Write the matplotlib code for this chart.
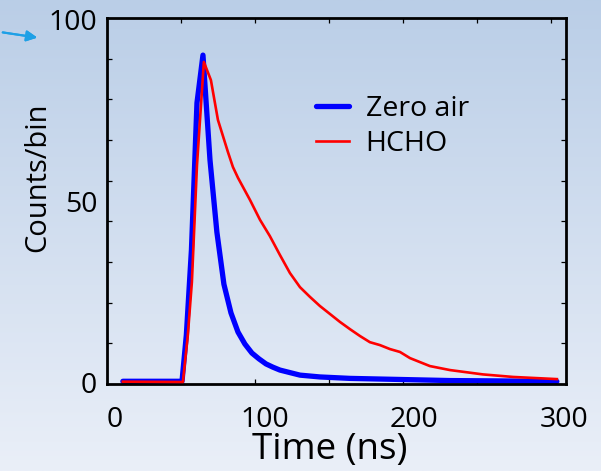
import numpy as np
import matplotlib.pyplot as plt
from matplotlib.colors import LinearSegmentedColormap

plt.rcParams['font.family'] = ['Open Sans', 'DejaVu Sans']

# Fluorescence decay histograms (time in ns, counts per bin)
time_zero_air = [5.5, 45.0, 47.9, 51.3, 55.0, 59.0, 63.7, 68.3, 73.0, 77.7, 82.4,
                 87.0, 91.7, 96.4, 101.1, 105.7, 110.4, 117.1, 123.8, 137.1,
                 157.2, 190.6, 224.0, 257.4, 295.4]
counts_zero_air = [0.2, 0.2, 13.0, 36.5, 77.1, 90.3, 61.3, 41.4, 27.0, 19.1, 13.8,
                   10.5, 8.0, 6.4, 5.0, 4.1, 3.3, 2.6, 1.9, 1.4,
                   1.0, 0.7, 0.4, 0.3, 0.15]

time_hcho = [5.5, 45.6, 48.9, 51.6, 55.0, 59.6, 64.3, 69.0, 75.7, 79.0, 82.4,
             90.4, 97.1, 103.7, 110.4, 117.1, 123.8, 130.5, 137.1, 143.8, 150.5,
             157.2, 163.9, 170.5, 177.2, 183.9, 190.6, 197.3, 210.6, 224.0,
             246.0, 266.1, 295.4]
counts_hcho = [0.1, 0.0, 13.0, 27.6, 59.9, 88.4, 83.4, 72.4, 63.5, 59.4, 56.4,
               50.3, 44.8, 40.3, 35.1, 30.1, 26.2, 23.5, 21.0, 18.8, 16.6,
               14.6, 12.7, 11.0, 10.2, 9.1, 8.3, 6.6, 4.4, 3.3,
               2.1, 1.4, 0.8]

x_tick_labels = ['0', '100', '200', '300']
x_tick_values = [0, 100, 200, 300]
y_tick_labels = ['0', '50', '100']
y_tick_values = [0, 50, 100]

W, H = 601, 471
fig = plt.figure(figsize=(W / 100, H / 100), dpi=100)

# slide-style vertical gradient background
bg = fig.add_axes([0, 0, 1, 1], zorder=-10)
grad = np.linspace(0, 1, 256).reshape(-1, 1)
cmap = LinearSegmentedColormap.from_list('bg', ['#bacee7', '#eaeff8'])
bg.imshow(grad, aspect='auto', cmap=cmap, extent=[0, 1, 0, 1], origin='upper')
bg.set_axis_off()

left, right, top, bottom = 107, 566, 18, 384
ax = fig.add_axes([left / W, 1 - bottom / H, (right - left) / W, (bottom - top) / H])
ax.set_facecolor('none')

ax.plot(time_zero_air, counts_zero_air, color='#0000ff', lw=3.8,
        solid_joinstyle='round', solid_capstyle='round', label='Zero air', zorder=2)
ax.plot(time_hcho, counts_hcho, color='#ff0000', lw=1.9,
        solid_joinstyle='round', label='HCHO', zorder=3)

xmin, xmax = -5.1, 301.5
ymin, ymax = -0.55, 100.55
ax.set_xlim(xmin, xmax)
ax.set_ylim(ymin, ymax)

# labelled ticks (no marks) and unlabelled inward tick marks
ax.set_xticks(x_tick_values)
ax.set_xticklabels(x_tick_labels)
ax.set_yticks(y_tick_values)
ax.set_yticklabels(y_tick_labels)
ax.tick_params(axis='both', which='major', length=0, labelsize=20.5)
ax.tick_params(axis='x', which='major', pad=16)
ax.tick_params(axis='y', which='major', pad=7)

x_step = (xmax - xmin) * 74 / (right - left)
ax.set_xticks([xmin + x_step * k for k in range(1, 7)], minor=True)
ax.set_yticks(np.linspace(ymin, ymax, 10)[1:-1], minor=True)
ax.tick_params(which='minor', direction='in', length=3.5, width=0.9,
               top=True, right=True, bottom=True, left=True)

for s in ax.spines.values():
    s.set_linewidth(2.0)

ax.set_xlabel('Time (ns)', fontsize=26.5, va='center', ha='center')
ax.xaxis.set_label_coords((330 - left) / (right - left), (bottom - 450) / (bottom - top))
ax.set_ylabel('Counts/bin', fontsize=21, va='center', ha='center')
ax.yaxis.set_label_coords((38 - left) / (right - left), (bottom - 177) / (bottom - top))

leg = ax.legend(loc='upper left', bbox_to_anchor=(0.43, 0.82), frameon=False,
                fontsize=20.5, handlelength=1.15, handletextpad=0.6,
                labelspacing=0.22, borderaxespad=0)

# pointer arrow at the top left
fig.add_artist(plt.annotate('', xy=(40 / W, 1 - 38 / H), xytext=(0, 1 - 32 / H),
                            xycoords='figure fraction', textcoords='figure fraction',
                            arrowprops=dict(arrowstyle='-|>', color='#1ea0e6',
                                            lw=1.5, mutation_scale=16)))

fig.savefig('out.png', dpi=100)
